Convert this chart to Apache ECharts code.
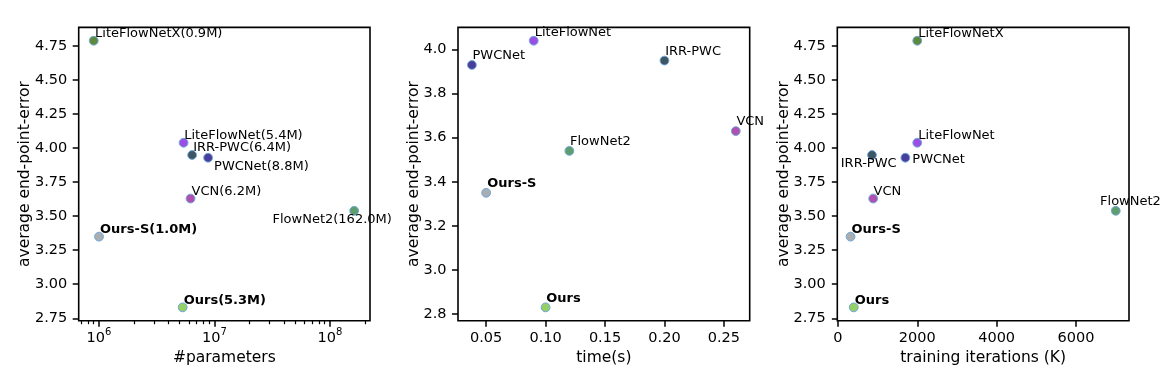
<!DOCTYPE html>
<html><head><meta charset="utf-8">
<script src="https://cdn.jsdelivr.net/npm/echarts@6/dist/echarts.min.js"></script>
<style>html,body{margin:0;padding:0;background:#fff}#c{width:1174px;height:386px}</style>
</head><body><div id="c"></div>
<script>
// ---------- data ----------
const models   = ['LiteFlowNetX','LiteFlowNet','IRR-PWC','PWCNet','VCN','FlowNet2','Ours-S','Ours'];
const epe      = [4.79, 4.04, 3.95, 3.93, 3.63, 3.54, 3.35, 2.83];
const paramsM  = [0.9, 5.4, 6.4, 8.8, 6.2, 162.0, 1.0, 5.3];
const timeSec  = [null, 0.09, 0.20, 0.038, 0.26, 0.12, 0.05, 0.10];
const itersK   = [2000, 2000, 860, 1700, 890, 7000, 320, 400];
const oursFlag = [false, false, false, false, false, false, true, true];

const paramTicks      = [1e6, 1e7, 1e8];
const paramMinorTicks = [7e5,8e5,9e5,2e6,3e6,4e6,5e6,6e6,7e6,8e6,9e6,2e7,3e7,4e7,5e7,6e7,7e7,8e7,9e7,2e8];
const epeTicksA = [2.75, 3.00, 3.25, 3.50, 3.75, 4.00, 4.25, 4.50, 4.75];
const epeTicksB = [2.8, 3.0, 3.2, 3.4, 3.6, 3.8, 4.0];
const timeTicks = [0.05, 0.10, 0.15, 0.20, 0.25];
const iterTicks = [0, 2000, 4000, 6000];

// ---------- styles ----------
const FONT = 'DejaVu Sans';
const colors = ['#5d8a3c','#9a4ee6','#3e5563','#4a3e9c','#b050b0','#5e9d6d','#a9aeb2','#94cf68'];
// label placement relative to point centre: [dx, dy, align]
const place1 = [[1.3,-7.3,'left'],[0.6,-7.6,'left'],[1,-7,'left'],[6,9,'left'],[1,-7.3,'left'],[-81.7,9,'left'],[1,-6.7,'left'],[1,-6.7,'left']];
const place2 = [null,[1,-8.3,'left'],[0.7,-9,'left'],[0.6,-9,'left'],[0.6,-9,'left'],[0.6,-9,'left'],[1,-9,'left'],[0.7,-9,'left']];
const place3 = [[1,-7,'left'],[1,-7.6,'left'],[-3.3,9,'center'],[7,2.3,'left'],[0.4,-7.3,'left'],[-15.7,-8.7,'left'],[1,-6.7,'left'],[1,-6.7,'left']];

function items(xs, place, textFn) {
  const out = [];
  models.forEach((m, i) => {
    if (xs[i] == null) return;
    out.push({
      name: m,
      value: [xs[i], epe[i]],
      itemStyle: { color: colors[i] },
      label: {
        show: true, position: 'inside',
        formatter: textFn(i),
        offset: [place[i][0], place[i][1]],
        align: place[i][2], verticalAlign: 'middle',
        fontFamily: FONT, fontSize: 13, color: '#000',
        fontWeight: oursFlag[i] ? 'bold' : 'normal'
      }
    });
  });
  return out;
}

const tickStyle = { show: true, length: 6, lineStyle: { color: '#000', width: 1.5 } };
const labelBase = { fontFamily: FONT, fontSize: 14.5, color: '#000', lineHeight: 16 };
const nameStyle = { fontFamily: FONT, fontSize: 15.5, color: '#000' };

const grids = [
  { left: 78.7, top: 27.4, width: 291.3, height: 293.3 },
  { left: 458,  top: 27.4, width: 291.7, height: 293.3 },
  { left: 837.3, top: 27.4, width: 291.7, height: 293.3 }
].map(g => Object.assign(g, { show: true, borderColor: '#000', borderWidth: 1.6, backgroundColor: 'transparent' }));

function yAxis(gi, min, max, ticks, dec, gap) {
  return {
    type: 'value', gridIndex: gi, min: min, max: max,
    splitLine: { show: false }, axisLine: { show: false },
    axisTick: Object.assign({ customValues: ticks }, tickStyle),
    axisLabel: Object.assign({ customValues: ticks, margin: 11.5, formatter: v => v.toFixed(dec) }, labelBase),
    name: 'average end-point-error', nameLocation: 'middle', nameRotate: 90, nameGap: gap,
    nameMoveOverlap: false,
    nameTextStyle: nameStyle
  };
}

const option = {
  animation: false,
  backgroundColor: '#fff',
  grid: grids,
  xAxis: [
    {
      type: 'log', logBase: 10, gridIndex: 0, position: 'bottom', min: 6.668e5, max: 2.22e8,
      splitLine: { show: false }, axisLine: { show: false },
      axisTick: Object.assign({ customValues: paramTicks }, tickStyle),
      axisLabel: {
        customValues: paramTicks, margin: 6.3,
        formatter: v => '{b|10}{s|' + Math.round(Math.log10(v)) + '}',
        rich: {
          b: { fontFamily: FONT, fontSize: 14.5, lineHeight: 22, color: '#000' },
          s: { fontFamily: FONT, fontSize: 10, lineHeight: 10, verticalAlign: 'top', color: '#000' }
        }
      },
      name: '#parameters', nameLocation: 'middle', nameGap: 29.5, nameMoveOverlap: false, nameTextStyle: nameStyle
    },
    {
      type: 'log', logBase: 10, gridIndex: 0, position: 'bottom', min: 6.668e5, max: 2.22e8,
      splitLine: { show: false }, axisLine: { show: false },
      axisTick: { show: true, customValues: paramMinorTicks, length: 3.5, lineStyle: { color: '#000', width: 1.2 } },
      axisLabel: { show: false }
    },
    {
      type: 'value', gridIndex: 1, min: 0.0263, max: 0.2717,
      splitLine: { show: false }, axisLine: { show: false },
      axisTick: Object.assign({ customValues: timeTicks }, tickStyle),
      axisLabel: Object.assign({ customValues: timeTicks, margin: 9.6, formatter: v => v.toFixed(2) }, labelBase),
      name: 'time(s)', nameLocation: 'middle', nameGap: 29.5, nameMoveOverlap: false, nameTextStyle: nameStyle
    },
    {
      type: 'value', gridIndex: 2, min: -14, max: 7334,
      splitLine: { show: false }, axisLine: { show: false },
      axisTick: Object.assign({ customValues: iterTicks }, tickStyle),
      axisLabel: Object.assign({ customValues: iterTicks, margin: 9.6, formatter: v => String(v) }, labelBase),
      name: 'training iterations (K)', nameLocation: 'middle', nameGap: 29.5, nameMoveOverlap: false, nameTextStyle: nameStyle
    }
  ],
  yAxis: [
    yAxis(0, 2.732, 4.888, epeTicksA, 2, 45.5),
    yAxis(1, 2.7695, 4.1005, epeTicksB, 1, 36.5),
    yAxis(2, 2.732, 4.888, epeTicksA, 2, 45.5)
  ],
  series: [
    { type: 'scatter', xAxisIndex: 0, yAxisIndex: 0, symbolSize: 8.8,
      itemStyle: { borderColor: '#6fa7d8', borderWidth: 1, opacity: 1 },
      data: items(paramsM.map(p => p * 1e6), place1, i => models[i] + '(' + paramsM[i].toFixed(1) + 'M)') },
    { type: 'scatter', xAxisIndex: 2, yAxisIndex: 1, symbolSize: 8.8,
      itemStyle: { borderColor: '#6fa7d8', borderWidth: 1, opacity: 1 },
      data: items(timeSec, place2, i => models[i]) },
    { type: 'scatter', xAxisIndex: 3, yAxisIndex: 2, symbolSize: 8.8,
      itemStyle: { borderColor: '#6fa7d8', borderWidth: 1, opacity: 1 },
      data: items(itersK, place3, i => models[i]) }
  ]
};

const chart = echarts.init(document.getElementById('c'), null, { renderer: 'canvas' });
chart.setOption(option);
</script>
</body></html>
